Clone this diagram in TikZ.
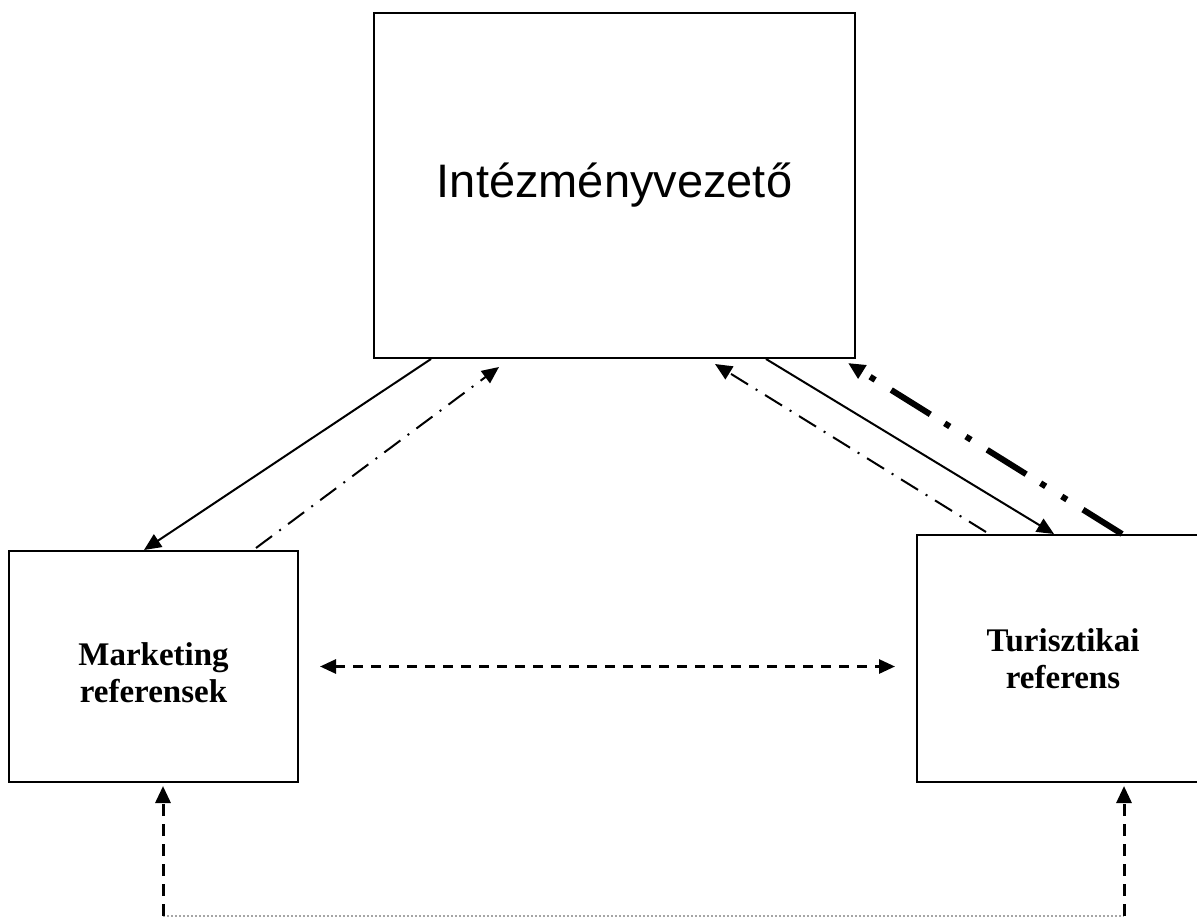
\documentclass[tikz,border=0pt]{standalone}
\usepackage{fontspec}
\setmainfont{Liberation Serif}
\newfontfamily\arialf{Liberation Sans}
\usetikzlibrary{arrows.meta}
\begin{document}
\begin{tikzpicture}[x=0.5pt,y=-0.5pt,
  box/.style={draw,line width=1pt,inner sep=0pt,align=center},
  lbl/.style={font=\fontsize{16.5pt}{18.5pt}\selectfont\bfseries,align=center,inner sep=0pt},
  tip/.style={-{Triangle[length=8.5pt,width=7.5pt]}},
  twotip/.style={{Triangle[length=8pt,width=7pt]}-{Triangle[length=8pt,width=7pt]}},
  solidarr/.style={tip,line width=1pt},
  dasharr/.style={tip,line width=1pt,dash pattern=on 10pt off 4.5pt on 1pt off 4.5pt},
  thickarr/.style={tip,line width=3pt,dash pattern=on 23pt off 9.5pt on 3pt off 9.5pt on 3pt off 8.5pt},
  hdash/.style={twotip,line width=1.4pt,dash pattern=on 5pt off 4pt},
  vdash/.style={tip,line width=1.5pt,dash pattern=on 6pt off 4pt},
  dotline/.style={draw=gray!70,line width=0.6pt,dash pattern=on 1pt off 1pt}
]
\useasboundingbox (0,0) rectangle (1197,919);
\node[box,minimum width=240.5pt,minimum height=172.5pt] (top) at (614.5,185.5)
  {\arialf\fontsize{23.5pt}{28pt}\selectfont Intézményvezető};
\node[box,minimum width=144.5pt,minimum height=115.5pt] (ml) at (153.5,666.5) {};
\node[lbl] (mltext) at ([yshift=-3pt]ml.center) {Marketing\\referensek};
\node[box,minimum width=146pt,minimum height=123.5pt] (tr) at (1063,658.5) {};
\node[lbl] (trtext) at (tr.center) {Turisztikai\\referens};
% top <-> marketing
\draw[solidarr] ([xshift=29pt]top.south west) -- ([xshift=68pt]ml.north west);
\draw[dasharr] ([xshift=124pt,yshift=1pt]ml.north west) -- ([xshift=63pt,yshift=-4pt]top.south west);
% top <-> turisztikai
\draw[solidarr] ([xshift=196.5pt]top.south west) -- ([xshift=69pt]tr.north west);
\draw[dasharr] ([xshift=35pt,yshift=1pt]tr.north west) -- ([xshift=171pt,yshift=-2.5pt]top.south west);
\draw[thickarr] ([xshift=103pt]tr.north west) -- ([xshift=237.5pt,yshift=-2pt]top.south west);
% horizontal
\draw[hdash] ([xshift=10.5pt]ml.east) -- ([xshift=-10.5pt]ml.east -| tr.west);
% bottom
\coordinate (bl) at (163,916);
\coordinate (br) at (1124,916);
\draw[dotline] (bl) -- (br);
\draw[vdash] (bl) -- ([yshift=-1.5pt]bl |- ml.south);
\draw[vdash] (br) -- ([yshift=-1.5pt]br |- tr.south);
\end{tikzpicture}
\end{document}
